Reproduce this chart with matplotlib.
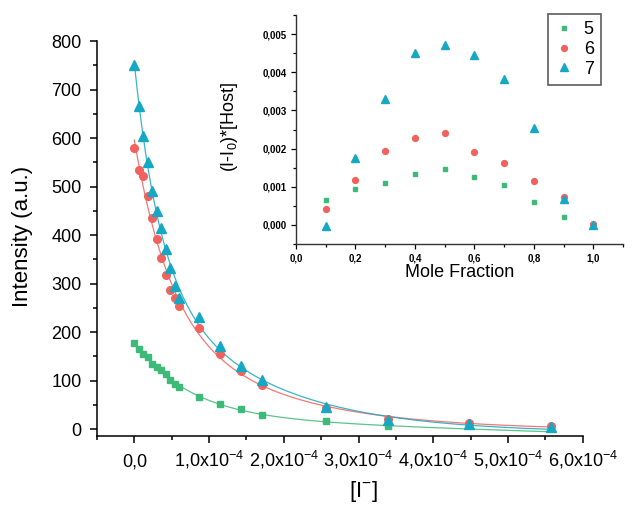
import matplotlib
matplotlib.use('Agg')

import matplotlib.pyplot as plt
import numpy as np
from matplotlib.ticker import MultipleLocator, FuncFormatter

plt.rcParams['font.family'] = ['Liberation Sans', 'DejaVu Sans']
plt.rcParams['mathtext.fontset'] = 'custom'
plt.rcParams['mathtext.rm'] = 'Liberation Sans'
plt.rcParams['mathtext.default'] = 'regular'

# titration: [I-] (M) vs emission intensity
iodide = np.array([0, 0.06, 0.12, 0.18, 0.24, 0.30, 0.36, 0.42, 0.48, 0.54, 0.60,
                   0.87, 1.14, 1.43, 1.71, 2.56, 3.40, 4.48, 5.57]) * 1e-4
int_5 = np.array([178, 166, 156, 148, 134, 128, 122, 113, 101, 94, 86,
                  67, 53, 41, 29, 16, 7])
int_6 = np.array([580, 534, 522, 480, 436, 391, 353, 318, 287, 271, 254,
                  209, 156, 120, 91, 43, 22, 12, 7])
int_7 = np.array([750, 666, 604, 551, 490, 450, 414, 371, 332, 296, 271,
                  231, 172, 130, 101, 46, 20, 10, 5])

# job plot
mole_fraction = np.array([0.1, 0.2, 0.3, 0.4, 0.5, 0.6, 0.7, 0.8, 0.9, 1.0])
job_5 = np.array([0.66, 0.95, 1.10, 1.34, 1.46, 1.25, 1.05, 0.60, 0.21, 0.0]) * 1e-3
job_6 = np.array([0.42, 1.18, 1.94, 2.29, 2.42, 1.92, 1.62, 1.16, 0.73, 0.02]) * 1e-3
job_7 = np.array([-0.04, 1.76, 3.30, 4.51, 4.72, 4.44, 3.82, 2.54, 0.68, 0.0]) * 1e-3

labels = ['5', '6', '7']
colors = ['#3dba78', '#f0625e', '#16a8c2']
markers = ['s', 'o', '^']


def expdec2_fit(x, y):
  """ExpDec2 fit (y0 + A1 exp(-x/t1) + A2 exp(-x/t2)), grid over t1/t2."""
  xs = x / 1e-4
  best = None
  taus = np.geomspace(0.05, 20, 70)
  for i, t1 in enumerate(taus):
    for t2 in taus[i + 1:]:
      A = np.column_stack([np.exp(-xs / t1), np.exp(-xs / t2), np.ones_like(xs)])
      coef = np.linalg.lstsq(A, y, rcond=None)[0]
      err = np.sum((A @ coef - y) ** 2)
      if best is None or err < best[0]:
        best = (err, t1, t2, coef)
  _, t1, t2, c = best
  return lambda xx: c[0] * np.exp(-xx / 1e-4 / t1) + c[1] * np.exp(-xx / 1e-4 / t2) + c[2]


def xfmt(v, pos):
  n = v / 1e-4
  if abs(n) < 1e-9:
    return '0,0'
  return ('%.1f' % n).replace('.', ',') + 'x10$^{-4}$'


fig = plt.figure(figsize=(6.33, 5.05), dpi=100)
ax = fig.add_axes([0.1532, 0.1366, 0.7674, 0.7822])

series = [int_5, int_6, int_7]
msizes = [4.5, 5.5, 7]
xfit = np.linspace(0, iodide[-1], 300)
for vals, col, mk, ms in zip(series, colors, markers, msizes):
  xv = iodide[:len(vals)]
  f = expdec2_fit(xv, vals)
  ax.plot(xfit, f(xfit), '-', color=col, lw=0.9, alpha=0.85, zorder=2)
  ax.plot(xv, vals, mk, color=col, ms=ms, mec=col, zorder=3)

ax.set_xlim(-0.5e-4, 6.0e-4)
ax.set_ylim(-14, 800)
ax.xaxis.set_major_locator(MultipleLocator(1e-4))
ax.xaxis.set_minor_locator(MultipleLocator(0.5e-4))
ax.xaxis.set_major_formatter(FuncFormatter(xfmt))
ax.yaxis.set_major_locator(MultipleLocator(100))
ax.yaxis.set_minor_locator(MultipleLocator(50))
for s in ['top', 'right']:
  ax.spines[s].set_visible(False)
for s in ['left', 'bottom']:
  ax.spines[s].set_linewidth(1.1)
ax.tick_params(which='major', direction='out', length=5, width=1.1, labelsize=13)
ax.tick_params(which='minor', direction='out', length=2.7, width=1.1)
ax.tick_params(axis='y', pad=6)
ax.tick_params(axis='x', pad=17)
plt.setp(ax.get_xticklabels(), va='baseline')
ax.set_ylabel('Intensity (a.u.)', fontsize=16)
ax.yaxis.set_label_coords(-0.132, 0.505)
ax.set_xlabel('[I$^{-}$]', fontsize=16)
ax.xaxis.set_label_coords(0.549, -0.108)

# inset: job plot
ins = fig.add_axes([0.4676, 0.5168, 0.5166, 0.4535])
jobs = [job_5, job_6, job_7]
inset_ms = [3.5, 4.2, 6]
handles = []
for vals, col, mk, ms, lab in zip(jobs, colors, markers, inset_ms, labels):
  h, = ins.plot(mole_fraction, vals, mk, color=col, ms=ms, mec=col, label=lab)
  handles.append(h)
ins.set_xlim(0, 1.1)
ins.set_ylim(-0.0005, 0.0055)
ins.xaxis.set_major_locator(MultipleLocator(0.2))
ins.xaxis.set_minor_locator(MultipleLocator(0.1))
ins.yaxis.set_major_locator(MultipleLocator(0.001))
ins.yaxis.set_minor_locator(MultipleLocator(0.0005))
ins.xaxis.set_major_formatter(FuncFormatter(lambda v, p: ('%.1f' % v).replace('.', ',')))
ins.yaxis.set_major_formatter(FuncFormatter(lambda v, p: ('%.3f' % v).replace('.', ',').replace('-', '')))
ins.patch.set_alpha(0)
for s in ['top', 'right']:
  ins.spines[s].set_visible(False)
for s in ['left', 'bottom']:
  ins.spines[s].set_linewidth(1.0)
  ins.spines[s].set_color('#333333')
ins.tick_params(which='major', direction='out', length=3.5, width=0.9, labelsize=7, pad=3)
ins.tick_params(which='minor', direction='out', length=2, width=0.9)
for t in ins.get_xticklabels() + ins.get_yticklabels():
  t.set_fontweight('bold')
ins.set_xlabel('Mole Fraction', fontsize=13, labelpad=1)
ins.set_ylabel('(I-I$_0$)*[Host]', fontsize=13)
ins.yaxis.set_label_coords(-0.171, 0.51)

leg = ins.legend(handles=handles, loc='upper right', bbox_to_anchor=(601 / 633, 1 - 14 / 505),
                 bbox_transform=fig.transFigure, borderaxespad=0, fontsize=13,
                 fancybox=False, handlelength=1.0, handletextpad=0.6,
                 labelspacing=0.15, borderpad=0.4, markerscale=1.0)
leg.get_frame().set_edgecolor('#333333')
leg.get_frame().set_linewidth(1.2)

plt.savefig('out.png', dpi=100)
